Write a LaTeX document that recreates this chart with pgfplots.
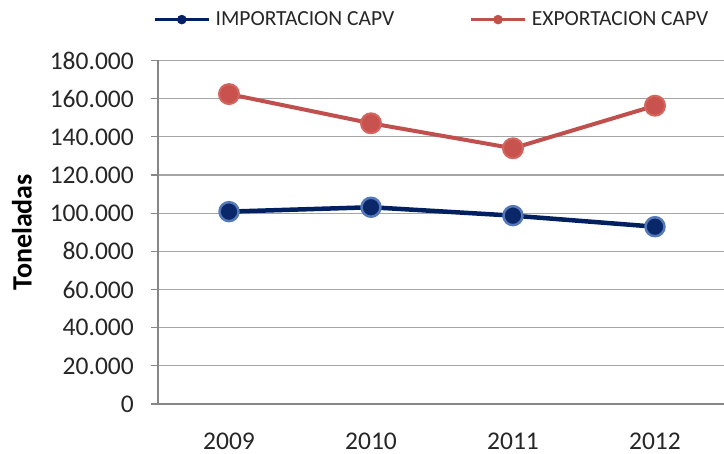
\documentclass[border=0pt]{standalone}
\usepackage{fontspec}
\setmainfont{Carlito}
\usepackage{pgfplots}
\pgfplotsset{compat=1.18}
\definecolor{impline}{RGB}{0,32,96}
\definecolor{impfill}{RGB}{10,40,105}
\definecolor{impring}{RGB}{85,120,185}
\definecolor{expline}{RGB}{192,80,77}
\definecolor{expfill}{RGB}{200,82,78}
\definecolor{expring}{RGB}{212,102,96}
\definecolor{gridc}{RGB}{165,165,165}
\definecolor{axisc}{RGB}{134,134,134}
\pgfplotsset{
  implegend/.style={legend image code/.code={\draw[##1, line width=3.6pt, mark repeat=2, mark phase=2, mark size=4.5pt,
    mark options={fill=impline, draw=impline, line width=0.5pt}] plot coordinates {(0pt,0pt) (27pt,0pt) (54pt,0pt)};}},
  explegend/.style={legend image code/.code={\draw[##1, line width=3.6pt, mark repeat=2, mark phase=2, mark size=4.5pt,
    mark options={fill=expline, draw=expline, line width=0.5pt}] plot coordinates {(0pt,0pt) (27pt,0pt) (54pt,0pt)};}},
}
\begin{document}
\begin{tikzpicture}
\useasboundingbox (0,0) rectangle (724pt,454pt);
\begin{axis}[
  at={(158pt,50pt)}, anchor=south west,
  scale only axis, width=566pt, height=343.5pt,
  xmin=-0.5, xmax=3.486, ymin=0, ymax=180000,
  axis x line*=bottom, axis y line*=left,
  axis line style={axisc, line width=1.2pt},
  clip=false,
  xtick={0,1,2,3},
  xticklabels={2009,2010,2011,2012},
  minor xtick={-0.5,0.5,1.5,2.5},
  xtick style={draw=none},
  minor x tick style={axisc, line width=1.2pt},
  ytick={0,20000,40000,60000,80000,100000,120000,140000,160000,180000},
  ytick style={axisc, line width=1.2pt},
  tick align=outside, major tick length=7pt, minor tick length=7pt,
  ymajorgrids, grid style={gridc, line width=1.2pt},
  scaled y ticks=false,
  yticklabel={\pgfmathprintnumber[fixed, precision=0, 1000 sep={.}, assume math mode=true]{\tick}},
  tick label style={font=\fontsize{25.5}{30}\selectfont, text=black!85},
  yticklabel style={anchor=east, inner sep=0pt, xshift=-17pt},
  xticklabel style={anchor=base, inner sep=0pt, yshift=-39pt},
  ylabel={Toneladas},
  ylabel style={at={(axis description cs:-0.2403,0.5)}, anchor=center, font=\fontsize{28}{32}\selectfont\bfseries},
  legend style={at={(axis description cs:-0.0088,1.119)}, anchor=west, draw=none, fill=none,
    inner sep=0pt, outer sep=0pt, font=\fontsize{21.5}{25}\selectfont, text=black!85,
    nodes={inner sep=0pt}, cells={anchor=west},
    /tikz/every odd column/.append style={column sep=5pt},
    /tikz/every even column/.append style={column sep=75pt}},
  legend columns=2,
]
\addplot[impline, line width=4.5pt, line join=round, mark=*, mark size=9.5pt,
  mark options={fill=impfill, draw=impring, line width=2.5pt}, implegend]
  coordinates {(0,100800) (1,103100) (2,98700) (3,92900)};
\addlegendentry{IMPORTACION CAPV}
\addplot[expline, line width=4pt, line join=round, mark=*, mark size=10pt,
  mark options={fill=expfill, draw=expring, line width=2pt}, explegend]
  coordinates {(0,162400) (1,147100) (2,134000) (3,156300)};
\addlegendentry{EXPORTACION CAPV}
\end{axis}
\end{tikzpicture}
\end{document}
